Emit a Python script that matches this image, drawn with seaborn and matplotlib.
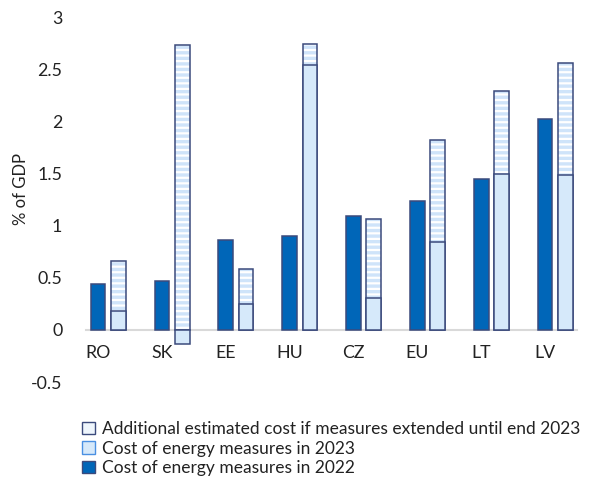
import numpy as np
import pandas as pd
import matplotlib
matplotlib.use("Agg")
import matplotlib.pyplot as plt
import seaborn as sns
from matplotlib.patches import Patch

countries = ["RO", "SK", "EE", "HU", "CZ", "EU", "LT", "LV"]
cost_2022 = [0.44, 0.47, 0.86, 0.90, 1.09, 1.24, 1.45, 2.02]
cost_2023 = [0.18, -0.13, 0.25, 2.54, 0.31, 0.84, 1.50, 1.49]
additional = [0.48, 2.73, 0.33, 0.20, 0.75, 0.98, 0.79, 1.07]
yticks = [-0.5, 0, 0.5, 1, 1.5, 2, 2.5, 3]
ytick_labels = ["-0.5", "0", "0.5", "1", "1.5", "2", "2.5", "3"]

lab_add = "Additional estimated cost if measures extended until end 2023"
lab_23 = "Cost of energy measures in 2023"
lab_22 = "Cost of energy measures in 2022"

DARK = "#0066B8"
LIGHT = "#D6E9FA"
STRIPE = "#CFE4FA"
EDGE = "#3B4A7C"

sns.set_theme(style="white")
plt.rcParams["font.family"] = ["Lato", "DejaVu Sans"]
plt.rcParams["hatch.linewidth"] = 2.4

c23 = np.array(cost_2023)
top_total = np.maximum(c23, 0) + np.array(additional)

df_main = pd.DataFrame({
    "country": countries * 2,
    "series": ["2022"] * len(countries) + ["2023"] * len(countries),
    "value": list(cost_2022) + list(cost_2023),
})
df_add = pd.DataFrame({
    "country": countries,
    "series": ["2023"] * len(countries),
    "value": top_total,
})

fig = plt.figure(figsize=(5.97, 4.88), dpi=100)
ax = fig.add_axes([0.144, 0.217, 0.8225, 0.748])

W = 0.636
GAP = 0.277
hue_order = ["2022", "2023"]

# hatched stripes layer (additional cost stacked on top of 2023)
sns.barplot(data=df_add, x="country", y="value", hue="series", hue_order=hue_order,
            order=countries, dodge=True, width=W, gap=GAP, ax=ax,
            palette={"2022": "white", "2023": "white"}, hatch="---",
            edgecolor=STRIPE, linewidth=0, errorbar=None, legend=False, saturation=1)
# outline of the hatched layer
sns.barplot(data=df_add, x="country", y="value", hue="series", hue_order=hue_order,
            order=countries, dodge=True, width=W, gap=GAP, ax=ax, fill=False,
            palette={"2022": EDGE, "2023": EDGE}, linewidth=1.1,
            errorbar=None, legend=False, saturation=1)
# 2022 and 2023 bars
sns.barplot(data=df_main, x="country", y="value", hue="series", hue_order=hue_order,
            order=countries, dodge=True, width=W, gap=GAP, ax=ax,
            palette={"2022": DARK, "2023": LIGHT}, edgecolor=EDGE, linewidth=1.1,
            errorbar=None, legend=False, saturation=1)

ax.set_xlim(-0.347, 7.34)
ax.set_ylim(-0.5, 3)
ax.set_yticks(yticks)
ax.set_yticklabels(ytick_labels)
ax.set_xticks(np.arange(len(countries)) - W / 4)
ax.set_xticklabels(countries)
ax.set_xlabel("")
ax.set_ylabel("% of GDP", fontsize=12, color="#222222")
ax.yaxis.set_label_coords(-0.115, 0.53)

for s in ["top", "right", "left"]:
    ax.spines[s].set_visible(False)
ax.spines["bottom"].set_position(("data", 0))
ax.spines["bottom"].set_color("#D9D9D9")
ax.spines["bottom"].set_linewidth(1.5)
ax.spines["bottom"].set_zorder(0)
ax.tick_params(axis="y", length=0, pad=17, labelsize=12.8, labelcolor="#222222")
ax.tick_params(axis="x", length=0, pad=11, labelsize=12.8, labelcolor="#222222")

handles = [
    Patch(facecolor="#EEF5FC", edgecolor=EDGE, linewidth=1.0, label=lab_add),
    Patch(facecolor=LIGHT, edgecolor="#4A90E2", linewidth=1.0, label=lab_23),
    Patch(facecolor=DARK, edgecolor=EDGE, linewidth=1.0, label=lab_22),
]
fig.legend(handles=handles, loc="upper left", bbox_to_anchor=(0.137, 0.137),
           frameon=False, fontsize=12.5, handlelength=0.75, handleheight=0.75,
           handletextpad=0.4, labelspacing=0.2, borderaxespad=0, borderpad=0,
           labelcolor="#222222")

fig.savefig("out.png", dpi=100)
